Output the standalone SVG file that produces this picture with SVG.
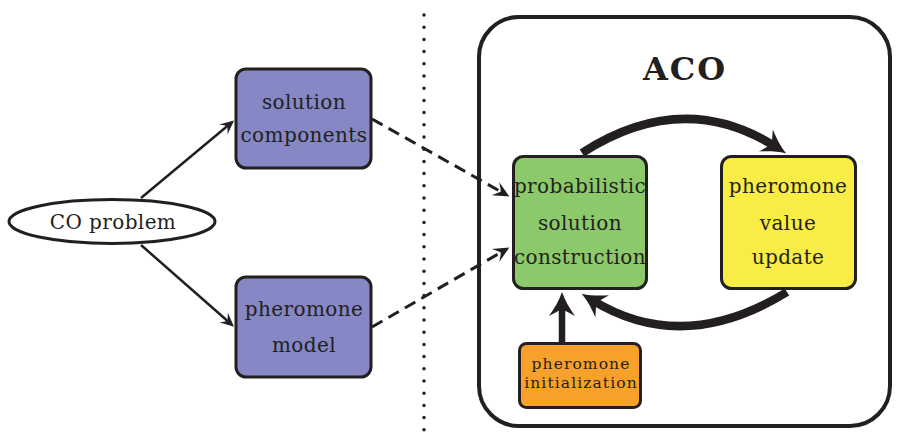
<svg xmlns="http://www.w3.org/2000/svg" width="903" height="445" viewBox="0 0 903 445">
  <style>
    .box { stroke: #231f20; stroke-width: 3; }
    .lbl { font-family: "DejaVu Serif", "Liberation Serif", serif; font-size: 20px; fill: #231f20; text-anchor: middle; letter-spacing: 0.4px; }
    .small { font-size: 15.5px; letter-spacing: 1.1px; }
    .title { font-size: 32px; font-weight: bold; letter-spacing: 2px; }
    .thin { fill: none; stroke: #231f20; stroke-width: 2.5; }
    .dash { fill: none; stroke: #231f20; stroke-width: 3; stroke-dasharray: 12 7; }
    .thick { fill: none; stroke: #231f20; stroke-width: 8.5; }
  </style>
  <defs>
    <marker id="tip" markerUnits="userSpaceOnUse" viewBox="-16 -10 22 20" markerWidth="22" markerHeight="20" refX="0" refY="0" orient="auto" overflow="visible">
      <path d="M4,0 L-10,-6.5 Q-5,-1 -5,0 Q-5,1 -10,6.5 Z" fill="#231f20"/>
    </marker>
    <marker id="tipDash" markerUnits="userSpaceOnUse" viewBox="-16 -10 22 20" markerWidth="22" markerHeight="20" refX="0" refY="0" orient="auto" overflow="visible">
      <path d="M5,0 L-11,-7.5 Q-5,-1 -5,0 Q-5,1 -11,7.5 Z" fill="#231f20"/>
    </marker>
    <marker id="tipBig" markerUnits="userSpaceOnUse" viewBox="-20 -16 34 32" markerWidth="34" markerHeight="32" refX="0" refY="0" orient="auto" overflow="visible">
      <path d="M12,0 C3,-3 -5,-8 -12,-13 L-5,0 L-12,13 C-5,8 3,3 12,0 Z" fill="#231f20"/>
    </marker>
  </defs>

  <!-- separator -->
  <line x1="424" y1="15" x2="424" y2="432" stroke="#231f20" stroke-width="3.5" stroke-linecap="round" stroke-dasharray="0 12.2"/>

  <!-- ACO frame -->
  <g id="aco">
    <rect x="479" y="17" width="411" height="409" rx="40" ry="40" fill="none" stroke="#231f20" stroke-width="4"/>
    <text class="lbl title" x="685" y="80">ACO</text>
  </g>

  <g id="connectors">
    <path class="thin" d="M141,198 L231,123" marker-end="url(#tip)"/>
    <path class="thin" d="M141,245 L231,324" marker-end="url(#tip)"/>
    <path class="dash" d="M372,119 L505,194" marker-end="url(#tipDash)"/>
    <path class="dash" d="M372,327 L505,250" marker-end="url(#tipDash)"/>
    <path class="thick" d="M582,153 Q683,88 776,147" marker-end="url(#tipBig)"/>
    <path class="thick" d="M787,292 Q683,356 592,300" marker-end="url(#tipBig)"/>
    <path class="thick" style="stroke-width:6.5" d="M562,342 L562,304" marker-end="url(#tipBig)"/>
  </g>

  <g id="co-problem">
    <ellipse cx="112" cy="221.5" rx="103" ry="22" fill="#ffffff" stroke="#231f20" stroke-width="3"/>
    <text class="lbl" x="113" y="229">CO problem</text>
  </g>

  <g id="solution-components">
    <rect class="box" x="236" y="69" width="135" height="99" rx="10" fill="#8588c4"/>
    <text class="lbl" x="304" y="109">solution</text>
    <text class="lbl" x="304" y="142">components</text>
  </g>

  <g id="pheromone-model">
    <rect class="box" x="236" y="277" width="135" height="100" rx="10" fill="#8588c4"/>
    <text class="lbl" x="304" y="316">pheromone</text>
    <text class="lbl" x="304" y="352">model</text>
  </g>

  <g id="construction">
    <rect class="box" x="513.5" y="156.5" width="133" height="132" rx="10" fill="#8cc96a"/>
    <text class="lbl" x="580" y="193" letter-spacing="0.2">probabilistic</text>
    <text class="lbl" x="580" y="230">solution</text>
    <text class="lbl" x="580" y="264" letter-spacing="0.2">construction</text>
  </g>

  <g id="update">
    <rect class="box" x="721.5" y="156.5" width="134" height="132" rx="10" fill="#f8ec45"/>
    <text class="lbl" x="788" y="193">pheromone</text>
    <text class="lbl" x="788" y="230">value</text>
    <text class="lbl" x="788" y="264">update</text>
  </g>

  <g id="initialization">
    <rect class="box" x="519.5" y="343.5" width="121" height="64" rx="7" fill="#f8a12a"/>
    <text class="lbl small" x="581" y="369">pheromone</text>
    <text class="lbl small" x="581" y="388">initialization</text>
  </g>
</svg>
